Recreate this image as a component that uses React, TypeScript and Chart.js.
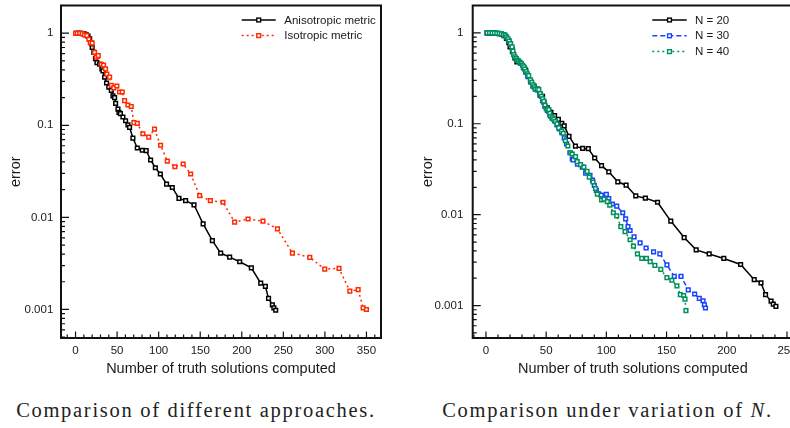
import React, { useEffect, useRef } from "react";
import { Chart, registerables } from "chart.js";
Chart.register(...registerables);

// ---------- data ----------
const anisoX = [1, 3, 5, 7, 9, 11, 13, 15, 17, 19, 20, 22, 24, 25.7, 29, 31.7, 33, 35, 37.3, 40, 43, 45, 47, 48.2, 51, 52.2, 54, 57, 60.2, 63, 65, 69, 74.3, 80.3, 85, 90.3, 96, 102, 109.5, 116.4, 124.4, 132.4, 142.5, 153.5, 164.6, 174.6, 185.4, 197.5, 211.5, 222.8, 228.4, 232.2, 236.8, 238.6, 240.8];
const anisoY = [1.0, 1.0, 1.0, 1.0, 0.99, 0.98, 0.96, 0.93, 0.87, 0.78, 0.7, 0.62, 0.53, 0.48, 0.46, 0.41, 0.39, 0.334, 0.288, 0.26, 0.24, 0.209, 0.2, 0.173, 0.15, 0.138, 0.134, 0.123, 0.112, 0.101, 0.095, 0.0727, 0.0567, 0.0536, 0.0532, 0.042, 0.0346, 0.0296, 0.023, 0.0211, 0.0161, 0.0152, 0.0137, 0.0085, 0.0056, 0.0041, 0.0037, 0.0033, 0.00283, 0.00193, 0.00178, 0.00132, 0.00112, 0.00104, 0.00098];

const isoX = [0, 2, 5, 8, 10.8, 13.6, 16, 17.7, 20, 22.9, 24.9, 27.3, 31, 33.7, 36.1, 37.7, 41, 43, 46, 49.7, 53, 56.2, 59, 63, 67, 70.2, 74.3, 81, 88, 95, 102.3, 110.4, 119.5, 129.5, 138.5, 149.3, 162.2, 177.4, 191.4, 207.5, 225.5, 242.9, 260.9, 281.8, 299.8, 317, 330, 340, 346, 350];
const isoY = [1.0, 1.0, 1.0, 0.99, 0.96, 0.94, 0.86, 0.79, 0.78, 0.62, 0.55, 0.57, 0.46, 0.45, 0.41, 0.36, 0.334, 0.272, 0.255, 0.267, 0.23, 0.23, 0.185, 0.166, 0.16, 0.107, 0.105, 0.081, 0.0745, 0.091, 0.0607, 0.0408, 0.0355, 0.038, 0.0296, 0.0172, 0.0152, 0.0146, 0.0089, 0.0096, 0.0091, 0.0075, 0.0041, 0.00368, 0.00274, 0.0028, 0.00158, 0.00164, 0.00104, 0.001];

// N = 20 uses the same run as the anisotropic metric
const n20X = anisoX;
const n20Y = anisoY;

const n30X = [1, 3, 5, 7, 9, 11, 13, 15, 17, 19, 20.5, 22, 23, 25, 27, 29, 31, 33, 35, 37, 39, 41, 43, 45, 47, 49, 51, 53, 55, 57, 59, 61, 63, 65, 67, 69.7, 71.7, 72.5, 76, 80, 82.8, 86.4, 88.5, 90, 91.7, 93.5, 95.8, 100, 102, 105, 108.6, 113.6, 116, 118, 119.7, 123, 128, 133, 139.2, 144.4, 150.3, 156.4, 162, 168, 173.3, 177.2, 180.3, 181.4, 182.3];
const n30Y = [1.0, 1.0, 1.0, 1.0, 0.99, 0.98, 0.97, 0.95, 0.9, 0.82, 0.75, 0.66, 0.58, 0.52, 0.49, 0.46, 0.42, 0.37, 0.33, 0.295, 0.26, 0.24, 0.235, 0.205, 0.18, 0.155, 0.14, 0.125, 0.115, 0.108, 0.097, 0.088, 0.08, 0.07, 0.06, 0.048, 0.041, 0.04, 0.036, 0.0333, 0.0286, 0.0271, 0.024, 0.021, 0.0185, 0.017, 0.0164, 0.0167, 0.015, 0.0131, 0.0124, 0.0105, 0.009, 0.0074, 0.0067, 0.0057, 0.0049, 0.0043, 0.0039, 0.0037, 0.0028, 0.0021, 0.0021, 0.00149, 0.00134, 0.0012, 0.00113, 0.00102, 0.00094];

const n40X = [1, 3, 5, 7, 9, 11, 12.8, 14.5, 16, 17.2, 18.3, 19.3, 20.3, 21.7, 22.4, 23, 24, 25, 26, 27.2, 28.3, 29.4, 30.4, 31.4, 32.3, 33.3, 34.4, 35.5, 36.9, 38, 38.9, 40, 41, 42.5, 43.9, 45, 46, 47, 48, 49, 50, 51, 52.2, 53, 53.6, 55, 56.3, 57.5, 59, 60.5, 62.8, 64.2, 66, 68, 70.3, 71.7, 74.4, 75.8, 78.6, 81.3, 84, 85.8, 88.9, 91, 92.5, 96, 98, 100.8, 102.8, 105.8, 108.6, 112, 115.5, 119.7, 122.5, 125.8, 129.4, 133.3, 136.4, 140.3, 145.2, 150.3, 154.4, 158.6, 161.4, 164.2, 165.3, 166.1];
const n40Y = [1.0, 1.0, 1.0, 1.0, 0.99, 0.985, 0.975, 0.96, 0.94, 0.9, 0.86, 0.81, 0.76, 0.7, 0.63, 0.577, 0.545, 0.52, 0.5, 0.49, 0.475, 0.46, 0.44, 0.424, 0.4, 0.374, 0.355, 0.339, 0.304, 0.285, 0.268, 0.255, 0.242, 0.24, 0.237, 0.215, 0.2, 0.188, 0.177, 0.16, 0.147, 0.145, 0.143, 0.13, 0.121, 0.116, 0.112, 0.106, 0.1, 0.09, 0.083, 0.0786, 0.065, 0.057, 0.048, 0.0465, 0.0435, 0.0384, 0.0355, 0.0333, 0.03, 0.0259, 0.0229, 0.0194, 0.0168, 0.0145, 0.0148, 0.0139, 0.0127, 0.0105, 0.0097, 0.0074, 0.0065, 0.0053, 0.0045, 0.0037, 0.0033, 0.0033, 0.00304, 0.00277, 0.0025, 0.00203, 0.0019, 0.00165, 0.00132, 0.00129, 0.00118, 0.00088];

const xTicksLeft = [0, 50, 100, 150, 200, 250, 300, 350];
const xTicksRight = [0, 50, 100, 150, 200, 250];
const yTicks = [0.001, 0.01, 0.1, 1];

// ---------- styling ----------
const SANS = "'Liberation Sans', Arial, Helvetica, sans-serif";
const TXT = "#1a1a1a";
const BLACK = "#000000";
const RED = "#ff2a00";
const BLUE = "#1744ff";
const GREEN = "#00915a";

function pts(xs: number[], ys: number[]) {
  return xs.map((x, i) => ({ x, y: ys[i] }));
}

function ds(label: string, xs: number[], ys: number[], color: string, dash: number[], order: number) {
  return {
    label,
    data: pts(xs, ys),
    borderColor: color,
    backgroundColor: "#ffffff",
    borderWidth: 1.5,
    borderDash: dash,
    pointStyle: "rect",
    pointRadius: 2.6,
    pointBorderWidth: 1.5,
    pointBackgroundColor: "#ffffff",
    pointBorderColor: color,
    tension: 0,
    order,
  };
}

const frameTicks = {
  id: "frameTicks",
  afterDraw(chart: any, _args: any, opts: any) {
    const { ctx, chartArea: a } = chart;
    const xs = chart.scales.x;
    const ys = chart.scales.y;
    ctx.save();
    ctx.strokeStyle = "#111";
    ctx.lineWidth = 1.2;
    ctx.setLineDash([]);
    ctx.beginPath();
    for (let v = Math.ceil(xs.min / 10) * 10; v <= xs.max; v += 10) {
      const px = xs.getPixelForValue(v);
      const len = v % 50 === 0 ? 6.5 : 3.5;
      ctx.moveTo(px, a.bottom);
      ctx.lineTo(px, a.bottom - len);
    }
    for (let e = -4; e <= 1; e++) {
      for (let m = 1; m <= 9; m++) {
        const v = m * Math.pow(10, e);
        if (v < ys.min || v > ys.max) continue;
        const py = ys.getPixelForValue(v);
        ctx.moveTo(a.left, py);
        ctx.lineTo(a.left + (m === 1 ? 8 : 4), py);
      }
    }
    ctx.stroke();
    ctx.lineWidth = 2;
    ctx.strokeRect(a.left, a.top, a.right - a.left, a.bottom - a.top);

    // legend
    const { lx, ly, len, tx, row } = opts;
    chart.data.datasets.forEach((d: any, i: number) => {
      const y = ly + i * row;
      ctx.strokeStyle = d.borderColor;
      ctx.lineWidth = 1.5;
      ctx.setLineDash(d.borderDash || []);
      ctx.beginPath();
      ctx.moveTo(lx, y);
      ctx.lineTo(lx + len, y);
      ctx.stroke();
      ctx.setLineDash([]);
      const mx = lx + len / 2;
      ctx.fillStyle = "#fff";
      ctx.lineWidth = 1.4;
      ctx.fillRect(mx - 1.9, y - 1.9, 3.8, 3.8);
      ctx.strokeRect(mx - 1.9, y - 1.9, 3.8, 3.8);
      ctx.fillStyle = TXT;
      ctx.font = `11.5px ${SANS}`;
      ctx.textBaseline = "middle";
      ctx.textAlign = "left";
      ctx.fillText(d.label, tx, y + 0.5);
    });
    ctx.restore();
  },
};

function makeConfig(p: {
  datasets: any[];
  xMin: number;
  xMax: number;
  yMin: number;
  yMax: number;
  xTicks: number[];
  yWidth: number;
  yLabelPad: number;
  yTitlePad: number;
  padRight: number;
  legend: any;
}) {
  return {
    type: "line",
    data: { datasets: p.datasets },
    plugins: [frameTicks],
    options: {
      animation: false,
      responsive: false,
      devicePixelRatio: 1,
      layout: { padding: { top: 3, right: p.padRight, left: 0, bottom: 0 } },
      plugins: {
        legend: { display: false },
        tooltip: { enabled: false },
        frameTicks: p.legend,
      },
      scales: {
        x: {
          type: "linear",
          min: p.xMin,
          max: p.xMax,
          bounds: "data",
          grid: { display: false, drawTicks: false },
          border: { display: false },
          afterBuildTicks: (s: any) => {
            s.ticks = p.xTicks.map((v) => ({ value: v }));
          },
          afterFit: (s: any) => {
            s.height = 42;
            s.paddingLeft = 0;
            s.paddingRight = 0;
          },
          ticks: {
            autoSkip: false,
            maxRotation: 0,
            padding: 6,
            color: TXT,
            font: { family: SANS, size: 11.5 },
            callback: (v: any) => String(v),
          },
          title: {
            display: true,
            text: "Number of truth solutions computed",
            color: TXT,
            font: { family: SANS, size: 14.5 },
            padding: { top: 0, bottom: 2.8 },
          },
        },
        y: {
          type: "logarithmic",
          min: p.yMin,
          max: p.yMax,
          bounds: "data",
          grid: { display: false, drawTicks: false },
          border: { display: false },
          afterBuildTicks: (s: any) => {
            s.ticks = yTicks.map((v) => ({ value: v }));
          },
          afterFit: (s: any) => {
            s.width = p.yWidth;
            s.paddingTop = 0;
            s.paddingBottom = 0;
          },
          ticks: {
            autoSkip: false,
            padding: p.yLabelPad,
            color: TXT,
            font: { family: SANS, size: 11.5 },
            callback: (v: any) => String(v),
          },
          title: {
            display: true,
            text: "error",
            color: TXT,
            font: { family: SANS, size: 14.5 },
            padding: { top: p.yTitlePad, bottom: 0 },
          },
        },
      },
    },
  };
}

function ChartCanvas({ config, left, width, height }: any) {
  const ref = useRef<HTMLCanvasElement | null>(null);
  useEffect(() => {
    if (!ref.current) return;
    const c = new Chart(ref.current, config);
    return () => c.destroy();
  }, []);
  return (
    <canvas
      ref={ref}
      width={width}
      height={height}
      style={{ position: "absolute", left, top: 0, width, height }}
    />
  );
}

const CAPTION_FONT = "'Liberation Serif', 'DejaVu Serif', serif";

export default function App() {
  const leftCfg = makeConfig({
    datasets: [
      ds("Anisotropic metric", anisoX, anisoY, BLACK, [], 2),
      ds("Isotropic metric", isoX, isoY, RED, [2, 3], 1),
    ],
    xMin: -17.5,
    xMax: 367.5,
    yMin: 0.00049,
    yMax: 2.0,
    xTicks: xTicksLeft,
    yWidth: 61,
    yLabelPad: 7.7,
    yTitlePad: 7.3,
    padRight: 14,
    legend: { lx: 241.7, ly: 20, len: 34, tx: 284.3, row: 15.6 },
  });
  const rightCfg = makeConfig({
    datasets: [
      ds("N = 20", n20X, n20Y, BLACK, [], 3),
      ds("N = 30", n30X, n30Y, BLUE, [5, 3], 2),
      ds("N = 40", n40X, n40Y, GREEN, [2, 3], 1),
    ],
    xMin: -11,
    xMax: 255,
    yMin: 0.00044,
    yMax: 2.0,
    xTicks: xTicksRight,
    yWidth: 77.7,
    yLabelPad: 9.4,
    yTitlePad: 24.6,
    padRight: 22,
    legend: { lx: 257.3, ly: 20, len: 34.4, tx: 300, row: 15.8 },
  });

  const captionStyle: any = {
    position: "absolute",
    top: 397,
    width: 440,
    textAlign: "center",
    fontFamily: CAPTION_FONT,
    fontSize: 20.5,
    lineHeight: "26px",
    letterSpacing: "1.7px",
    color: "#222",
    whiteSpace: "nowrap",
  };

  return (
    <div
      style={{
        position: "absolute",
        left: 0,
        top: 0,
        width: 790,
        height: 428,
        overflow: "hidden",
        background: "#ffffff",
      }}
    >
      <ChartCanvas config={leftCfg} left={0} width={395} height={380} />
      <ChartCanvas config={rightCfg} left={395} width={420} height={380} />
      <div style={{ ...captionStyle, left: 196 - 220 }}>Comparison of different approaches.</div>
      <div style={{ ...captionStyle, left: 607.5 - 220 }}>
        Comparison under variation of <i>N</i>.
      </div>
    </div>
  );
}
